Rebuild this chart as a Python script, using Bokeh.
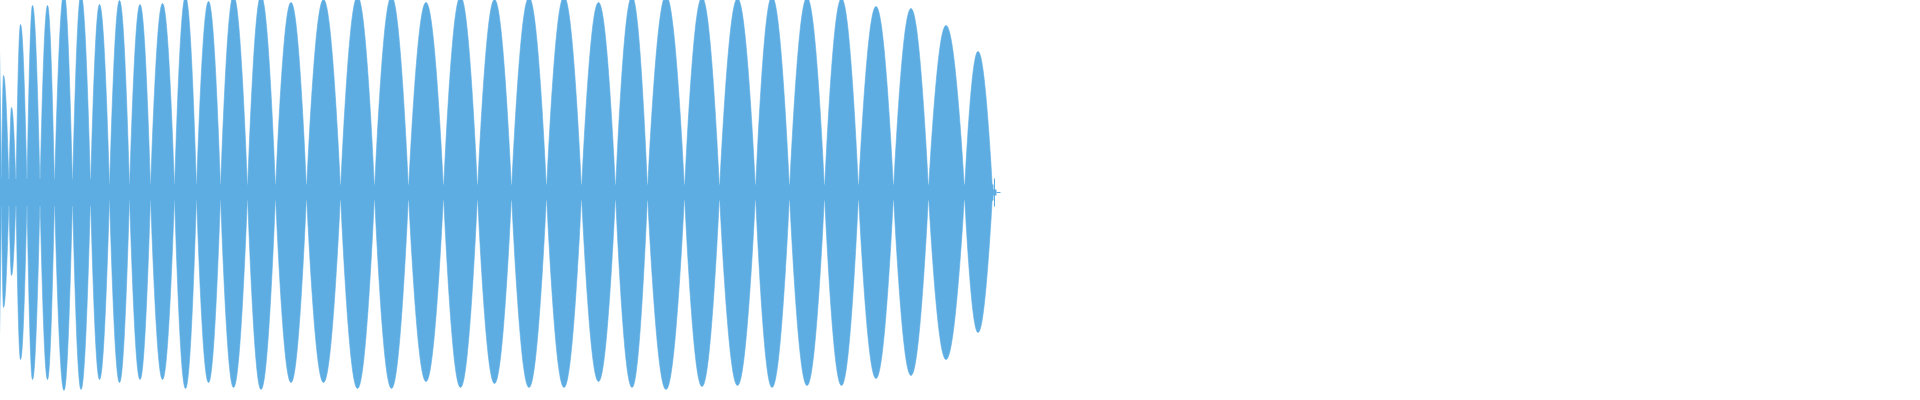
import numpy as np
from bokeh.plotting import figure
from bokeh.models import Range1d
from bokeh.embed import file_html
from bokeh.resources import INLINE

# ---- data (x in samples/pixels, amplitude in [-1, 1]) ----
lobe_start = [-1, 3, 9, 16.5, 23.5, 34.5, 47.5, 62, 80, 98, 117, 137, 158, 182, 204, 228,
              255, 283, 314, 348, 382, 416, 451, 485, 519, 554, 589, 623, 655, 692, 727,
              763, 797, 832, 866, 901, 936, 972]
lobe_peak = [0.5, 5, 11, 19, 28, 40, 55, 71.5, 88.5, 107, 127, 147.5, 170, 193, 216, 241,
             268.5, 298.5, 331, 365, 399, 433.5, 468, 502, 536.5, 571.5, 606, 639.5,
             673.5, 709.5, 745, 779.5, 814.5, 849, 883.5, 918.5, 953.5, 985.5]
lobe_end = [3, 9, 16.5, 23.5, 34.5, 47.5, 62, 80, 98, 117, 137, 158, 182, 204, 228, 255,
            283, 314, 348, 382, 416, 451, 485, 519, 554, 589, 623, 655, 692, 727, 763,
            797, 832, 866, 901, 936, 972, 1000]
lobe_top = [0.185, 0.975, 0.585, 0.425, 0.84, 0.935, 0.935, 1.0, 0.99, 0.94, 0.96, 0.94,
            0.945, 0.98, 0.955, 0.985, 0.985, 0.95, 0.965, 0.98, 0.98, 0.95, 0.98, 0.965,
            0.975, 0.98, 0.95, 0.98, 0.985, 0.975, 0.97, 0.98, 0.975, 0.97, 0.93, 0.92,
            0.835, 0.705]
lobe_bottom = [0.175, 0.975, 0.575, 0.415, 0.835, 0.935, 0.935, 0.99, 0.985, 0.935, 0.95,
               0.935, 0.935, 0.98, 0.95, 0.975, 0.985, 0.95, 0.95, 0.98, 0.98, 0.945,
               0.975, 0.955, 0.975, 0.975, 0.945, 0.975, 0.985, 0.97, 0.965, 0.975, 0.965,
               0.965, 0.93, 0.915, 0.835, 0.70]

# quiet carrier band between beats
band_start = [0, 100, 1000]
band_end = [100, 1001, 1004]
band_half = [0.068, 0.04, 0.015]

# end-of-signal click
tail_x = [1002]
tail_half = [0.07]

COLOR = "#5DADE2"

p = figure(width=1920, height=400, output_backend="svg", toolbar_location=None,
           x_range=Range1d(0, 1920), y_range=Range1d(-1, 1), min_border=0)
p.styles = {"margin": "-8px"}
p.axis.visible = False
p.grid.visible = False
p.outline_line_color = None
p.background_fill_color = "white"
p.border_fill_color = "white"

# beat lobes: rounded envelope rising from one node to the peak and back to the next node
xs, ys = [], []
for s, m, e, t, b in zip(lobe_start, lobe_peak, lobe_end, lobe_top, lobe_bottom):
    u = np.linspace(0, 1, 25)
    half = np.sin(0.5 * np.pi * u) ** 0.9
    x = np.concatenate([s + (m - s) * u, m + (e - m) * u[1:]])
    env = np.concatenate([half, half[::-1][1:]])
    xs.append(list(x) + list(x[::-1]))
    ys.append(list(t * env) + list(-b * env[::-1]))
p.patches(xs, ys, fill_color=COLOR, line_color=COLOR, line_width=0.6)

p.quad(left=band_start, right=band_end, top=band_half,
       bottom=[-h for h in band_half], fill_color=COLOR, line_color=None)
p.segment(x0=tail_x, x1=tail_x, y0=[-h for h in tail_half], y1=tail_half,
          line_color=COLOR, line_width=1)
p.segment(x0=[1004], x1=[1008], y0=[0], y1=[0], line_color=COLOR, line_width=1)

open("out.html", "w").write(file_html(p, INLINE))
